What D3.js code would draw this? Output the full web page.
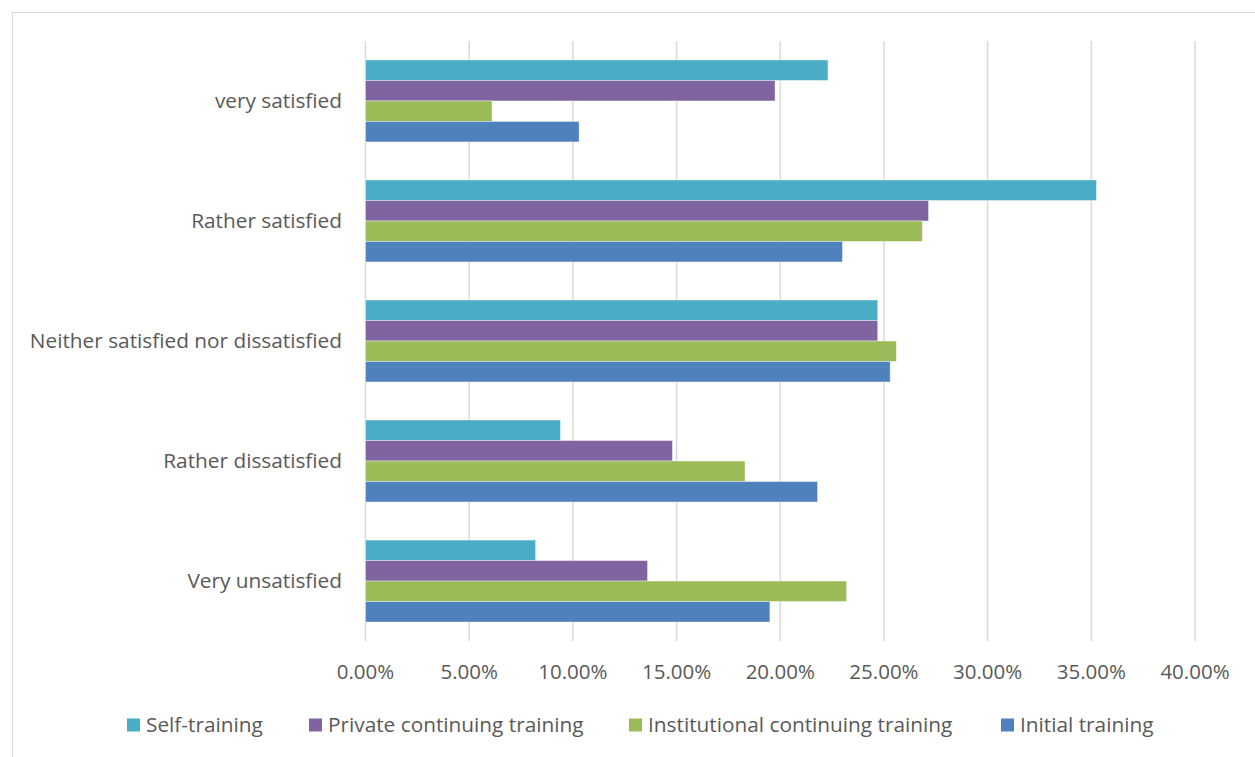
<!DOCTYPE html>
<html lang="en">
<head>
<meta charset="UTF-8">
<title>Satisfaction by training type</title>
<script src="https://d3js.org/d3.v7.min.js"></script>
<style>
  body { margin: 0; background: #fff; }
  text { font-family: "Open Sans", sans-serif; fill: #595959; }
</style>
</head>
<body>
<script>
const width = 1255, height = 757;

// data
const categories = ["very satisfied", "Rather satisfied", "Neither satisfied nor dissatisfied", "Rather dissatisfied", "Very unsatisfied"];
const seriesNames = ["Self-training", "Private continuing training", "Institutional continuing training", "Initial training"];
const selfTraining = [22.3, 35.25, 24.7, 9.4, 8.2];
const privateTraining = [19.75, 27.15, 24.7, 14.8, 13.6];
const institutionalTraining = [6.1, 26.85, 25.6, 18.3, 23.2];
const initialTraining = [10.3, 23.0, 25.3, 21.8, 19.5];
const ticks = [0, 5, 10, 15, 20, 25, 30, 35, 40];
const colors = ["#4BACC6", "#8064A2", "#9BBB59", "#4F81BD"];

const values = [selfTraining, privateTraining, institutionalTraining, initialTraining];

const svg = d3.select("body").append("svg")
    .attr("width", width)
    .attr("height", height);

// chart frame
svg.append("rect")
    .attr("x", 12.5).attr("y", 12.5)
    .attr("width", width + 10).attr("height", height + 10)
    .attr("fill", "none")
    .attr("stroke", "#d9d9d9");

const plotLeft = 365.5, plotRight = 1195, plotTop = 41, plotBottom = 641;

const x = d3.scaleLinear().domain([0, 40]).range([plotLeft, plotRight]);
const y = d3.scaleBand().domain(categories).range([plotTop, plotBottom]).paddingInner(0.317).paddingOuter(0.158);
const ySub = d3.scaleBand().domain(seriesNames).range([0, y.bandwidth()]);

// gridlines
svg.append("g")
    .selectAll("line")
    .data(ticks)
    .join("line")
    .attr("x1", d => x(d)).attr("x2", d => x(d))
    .attr("y1", plotTop).attr("y2", plotBottom)
    .attr("stroke", "#d9d9d9")
    .attr("stroke-width", 1.5);

// bars
const groups = svg.append("g")
    .selectAll("g")
    .data(categories)
    .join("g")
    .attr("transform", d => "translate(0," + y(d) + ")");

groups.selectAll("rect")
    .data((c, i) => seriesNames.map((s, j) => ({ s: s, v: values[j][i], c: colors[j] })))
    .join("rect")
    .attr("x", x(0))
    .attr("y", d => ySub(d.s))
    .attr("width", d => x(d.v) - x(0))
    .attr("height", ySub.bandwidth())
    .attr("fill", d => d.c)
    .attr("stroke", "#ffffff")
    .attr("stroke-opacity", 0.5)
    .attr("stroke-width", 0.8);

// category labels
svg.append("g")
    .selectAll("text")
    .data(categories)
    .join("text")
    .attr("x", 342)
    .attr("y", d => y(d) + y.bandwidth() / 2)
    .attr("dy", "0.35em")
    .attr("text-anchor", "end")
    .attr("font-size", "20.8px")
    .text(d => d);

// x tick labels
svg.append("g")
    .selectAll("text")
    .data(ticks)
    .join("text")
    .attr("x", d => x(d))
    .attr("y", 672)
    .attr("dy", "0.35em")
    .attr("text-anchor", "middle")
    .attr("font-size", "20.5px")
    .text(d => d3.format(".2f")(d) + "%");

// legend
const legendX = [127, 309, 629, 1001];
const legend = svg.append("g")
    .selectAll("g")
    .data(seriesNames)
    .join("g")
    .attr("transform", (d, i) => "translate(" + legendX[i] + ",725)");

legend.append("rect")
    .attr("x", 0).attr("y", -6.5)
    .attr("width", 13).attr("height", 13)
    .attr("fill", (d, i) => colors[i]);

legend.append("text")
    .attr("x", 19)
    .attr("y", 0)
    .attr("dy", "0.35em")
    .attr("font-size", "20.8px")
    .text(d => d);
</script>
</body>
</html>
